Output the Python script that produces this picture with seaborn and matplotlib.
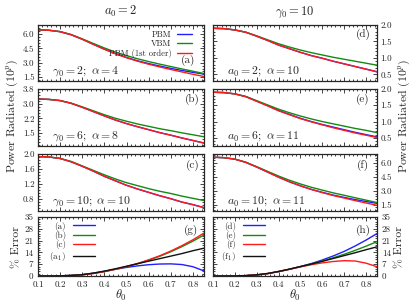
import matplotlib
matplotlib.use("Agg")
import matplotlib.pyplot as plt
import seaborn as sns
from matplotlib.ticker import AutoMinorLocator, FormatStrFormatter, MultipleLocator

# theta_0 grid
theta = [0.10, 0.15, 0.20, 0.25, 0.30, 0.35, 0.40, 0.45,
         0.50, 0.55, 0.60, 0.65, 0.70, 0.75, 0.80, 0.85]

# power radiated, panel (a)  a0=2, gamma0=2, alpha=4
a_pbm = [6.45, 6.40, 6.25, 5.93, 5.46, 4.93, 4.42, 3.96, 3.56, 3.21, 2.92, 2.66, 2.42, 2.20, 2.00, 1.82]
a_vbm = [6.45, 6.40, 6.26, 5.95, 5.50, 5.02, 4.55, 4.12, 3.75, 3.42, 3.13, 2.86, 2.61, 2.36, 2.12, 1.88]
a_first = [6.45, 6.40, 6.25, 5.93, 5.46, 4.93, 4.42, 3.94, 3.53, 3.17, 2.85, 2.57, 2.30, 2.05, 1.80, 1.57]
# panel (b)  gamma0=6, alpha=8
b_pbm = [3.24, 3.22, 3.16, 3.02, 2.82, 2.60, 2.38, 2.17, 1.99, 1.83, 1.68, 1.53, 1.40, 1.26, 1.13, 1.00]
b_vbm = [3.24, 3.22, 3.16, 3.03, 2.84, 2.64, 2.44, 2.26, 2.11, 1.97, 1.85, 1.73, 1.63, 1.52, 1.42, 1.32]
b_first = [3.24, 3.22, 3.16, 3.02, 2.82, 2.60, 2.38, 2.17, 1.99, 1.83, 1.68, 1.53, 1.40, 1.26, 1.13, 1.00]
# panel (c)  gamma0=10, alpha=10
c_pbm = [1.93, 1.92, 1.88, 1.79, 1.67, 1.54, 1.40, 1.28, 1.16, 1.06, 0.97, 0.88, 0.80, 0.71, 0.64, 0.56]
c_vbm = [1.93, 1.92, 1.88, 1.80, 1.68, 1.56, 1.44, 1.33, 1.23, 1.15, 1.07, 1.00, 0.94, 0.87, 0.81, 0.75]
c_first = [1.93, 1.92, 1.88, 1.79, 1.67, 1.54, 1.40, 1.28, 1.16, 1.06, 0.97, 0.88, 0.80, 0.71, 0.64, 0.56]
# panel (d)  a0=2, alpha=10
d_pbm = [1.90, 1.89, 1.85, 1.78, 1.66, 1.53, 1.39, 1.28, 1.17, 1.07, 0.99, 0.90, 0.82, 0.74, 0.66, 0.58]
d_vbm = [1.90, 1.89, 1.85, 1.78, 1.67, 1.55, 1.43, 1.33, 1.24, 1.16, 1.09, 1.02, 0.96, 0.90, 0.84, 0.78]
d_first = [1.90, 1.89, 1.85, 1.78, 1.66, 1.53, 1.39, 1.28, 1.17, 1.07, 0.99, 0.90, 0.82, 0.74, 0.66, 0.58]
# panel (e)  a0=6, alpha=11
e_pbm = [1.90, 1.89, 1.85, 1.77, 1.63, 1.49, 1.34, 1.22, 1.10, 1.00, 0.91, 0.83, 0.75, 0.67, 0.60, 0.53]
e_vbm = [1.90, 1.89, 1.85, 1.77, 1.64, 1.51, 1.38, 1.27, 1.17, 1.08, 1.00, 0.93, 0.86, 0.79, 0.73, 0.66]
e_first = [1.90, 1.89, 1.85, 1.76, 1.62, 1.48, 1.33, 1.21, 1.09, 0.99, 0.90, 0.81, 0.73, 0.65, 0.58, 0.51]
# panel (f)  a0=10, alpha=11
f_pbm = [6.65, 6.60, 6.44, 6.09, 5.58, 5.03, 4.48, 3.97, 3.54, 3.15, 2.83, 2.53, 2.28, 2.04, 1.83, 1.63]
f_vbm = [6.65, 6.60, 6.44, 6.11, 5.62, 5.11, 4.60, 4.14, 3.74, 3.38, 3.07, 2.77, 2.51, 2.24, 1.98, 1.72]
f_first = [6.65, 6.60, 6.44, 6.09, 5.58, 5.03, 4.48, 3.97, 3.53, 3.14, 2.80, 2.48, 2.21, 1.93, 1.67, 1.42]

# % error, panel (g)
err_a = [0, 0, 0.1, 0.35, 0.8, 1.7, 2.8, 4.0, 5.1, 6.0, 6.7, 7.1, 7.2, 6.8, 5.5, 3.0]
err_b = [0, 0, 0.1, 0.3, 0.7, 1.5, 2.6, 4.0, 5.6, 7.3, 9.4, 11.7, 14.4, 17.4, 20.7, 24.3]
err_c = [0, 0, 0.1, 0.3, 0.7, 1.5, 2.6, 4.0, 5.6, 7.4, 9.6, 12.0, 14.8, 18.0, 21.5, 25.5]
err_a1 = [0, 0, 0.1, 0.35, 0.8, 1.7, 2.9, 4.3, 5.8, 7.3, 8.8, 10.3, 11.8, 13.3, 15.0, 16.5]
# % error, panel (h)
err_d = [0, 0, 0.05, 0.2, 0.6, 1.4, 2.6, 4.0, 5.6, 7.4, 9.5, 11.9, 14.6, 17.8, 21.3, 25.2]
err_e = [0, 0, 0.05, 0.2, 0.6, 1.4, 2.6, 4.0, 5.6, 7.2, 8.9, 10.8, 12.9, 15.2, 17.7, 20.4]
err_f = [0, 0, 0.05, 0.25, 0.7, 1.5, 2.7, 4.0, 5.4, 6.7, 7.8, 8.6, 9.1, 8.9, 7.6, 5.5]
err_f1 = [0, 0, 0.05, 0.25, 0.7, 1.5, 2.7, 4.1, 5.6, 7.1, 8.7, 10.4, 12.1, 13.8, 15.6, 17.3]

BLUE, GREEN, RED, BLACK = "#1f1fff", "#138a13", "#ff1a1a", "#111111"

sns.set_style("ticks")
plt.rcParams["font.family"] = "serif"
plt.rcParams["font.serif"] = ["cmr10", "DejaVu Serif"]
plt.rcParams["mathtext.fontset"] = "cm"
plt.rcParams["axes.formatter.use_mathtext"] = True
plt.rcParams["axes.linewidth"] = 0.9

fig = plt.figure(figsize=(4.16, 3.02), dpi=100)
W, H = 416.0, 302.0
cols = [(38, 166), (213, 164)]
rows = [(25, 81), (89, 146), (154, 211), (217, 276)]


def make_ax(c, r):
    x0, w = cols[c]
    t, b = rows[r]
    return fig.add_axes([x0 / W, 1 - b / H, w / W, (b - t) / H])


def style(ax, right, ylim, ystep, fmt, bottom_labels=False):
    ax.set_xlim(0.1, 0.85)
    ax.set_ylim(*ylim)
    ax.xaxis.set_major_locator(MultipleLocator(0.1))
    ax.xaxis.set_minor_locator(AutoMinorLocator(5))
    ax.yaxis.set_major_locator(MultipleLocator(ystep))
    ax.yaxis.set_minor_locator(AutoMinorLocator(5))
    ax.yaxis.set_major_formatter(FormatStrFormatter(fmt))
    ax.xaxis.set_major_formatter(FormatStrFormatter("%.1f"))
    ax.tick_params(which="both", direction="in", top=True, right=True, left=True,
                   labelsize=6.5, pad=2.5, width=0.6)
    ax.tick_params(which="major", length=3)
    ax.tick_params(which="minor", length=1.6)
    ax.tick_params(axis="x", labelbottom=bottom_labels, pad=3)
    if bottom_labels:
        ax.tick_params(axis="y", pad=3.5)
    if right:
        ax.tick_params(axis="y", labelleft=False, labelright=True)
    ax.set_xlabel("")
    ax.set_ylabel("")


def power(ax, pbm, vbm, first, legend=False):
    sns.lineplot(x=theta, y=pbm, ax=ax, color=BLUE, lw=1.0, label="PBM" if legend else None)
    sns.lineplot(x=theta, y=vbm, ax=ax, color=GREEN, lw=1.0, label="VBM" if legend else None)
    sns.lineplot(x=theta, y=first, ax=ax, color=RED, lw=1.0,
                 label="PBM (1st order)" if legend else None)


def note(ax, txt, tag, tx, ty):
    ax.text(0.085, 0.05, txt, transform=ax.transAxes, fontsize=8.5, va="bottom", ha="left")
    ax.text(tx, ty, tag, transform=ax.transAxes, fontsize=8, va="center", ha="center")


def theta_label(ax):
    ax.set_xlabel(r"$\theta_0$", fontsize=9)
    ax.xaxis.set_label_coords(0.5, -0.33)
    ax.xaxis.label.set_va("center")


# left column
ax = make_ax(0, 0)
power(ax, a_pbm, a_vbm, a_first, legend=True)
style(ax, False, (1.1, 6.95), 1.5, "%.1f")
ax.legend(loc="upper right", bbox_to_anchor=(0.96, 1.0), frameon=False, markerfirst=False,
          fontsize=6.2, handlelength=1.8, handletextpad=0.6, labelspacing=0.12, borderaxespad=0.2)
note(ax, r"$\gamma_0 = 2;\ \alpha = 4$", "(a)", 0.905, 0.36)
ax.set_title(r"$a_0 = 2$", fontsize=9, pad=7)

ax = make_ax(0, 1)
power(ax, b_pbm, b_vbm, b_first)
style(ax, False, (0.85, 3.75), 0.75, "%.1f")
note(ax, r"$\gamma_0 = 6;\ \alpha = 8$", "(b)", 0.93, 0.82)

ax = make_ax(0, 2)
power(ax, c_pbm, c_vbm, c_first)
style(ax, False, (0.47, 2.0), 0.4, "%.1f")
note(ax, r"$\gamma_0 = 10;\ \alpha = 10$", "(c)", 0.93, 0.8)

ax = make_ax(0, 3)
sns.lineplot(x=theta, y=err_a, ax=ax, color=BLUE, lw=1.0, label="(a)")
sns.lineplot(x=theta, y=err_b, ax=ax, color=GREEN, lw=1.0, label="(b)")
sns.lineplot(x=theta, y=err_c, ax=ax, color=RED, lw=1.0, label="(c)")
sns.lineplot(x=theta, y=err_a1, ax=ax, color=BLACK, lw=1.0, label=r"(a$_1$)")
style(ax, False, (0, 35), 7, "%d", bottom_labels=True)
ax.legend(loc="upper left", bbox_to_anchor=(0.04, 1.0), frameon=False, markerfirst=False,
          fontsize=6.5, handlelength=2.4, handletextpad=0.8, labelspacing=0.05, borderaxespad=0.1)
ax.text(0.92, 0.78, "(g)", transform=ax.transAxes, fontsize=8, va="center", ha="center")
theta_label(ax)
ax.set_ylabel(r"% Error", fontsize=8.5, labelpad=2)

# right column
ax = make_ax(1, 0)
power(ax, d_pbm, d_vbm, d_first)
style(ax, True, (0.3, 2.0), 0.5, "%.1f")
note(ax, r"$a_0 = 2;\ \alpha = 10$", "(d)", 0.915, 0.84)
ax.set_title(r"$\gamma_0 = 10$", fontsize=9, pad=7)

ax = make_ax(1, 1)
power(ax, e_pbm, e_vbm, e_first)
style(ax, True, (0.25, 2.0), 0.5, "%.1f")
note(ax, r"$a_0 = 6;\ \alpha = 11$", "(e)", 0.915, 0.82)

ax = make_ax(1, 2)
power(ax, f_pbm, f_vbm, f_first)
style(ax, True, (0.8, 7.0), 1.5, "%.1f")
note(ax, r"$a_0 = 10;\ \alpha = 11$", "(f)", 0.915, 0.8)

ax = make_ax(1, 3)
sns.lineplot(x=theta, y=err_d, ax=ax, color=BLUE, lw=1.0, label="(d)")
sns.lineplot(x=theta, y=err_e, ax=ax, color=GREEN, lw=1.0, label="(e)")
sns.lineplot(x=theta, y=err_f, ax=ax, color=RED, lw=1.0, label="(f)")
sns.lineplot(x=theta, y=err_f1, ax=ax, color=BLACK, lw=1.0, label=r"(f$_1$)")
style(ax, True, (0, 35), 7, "%d", bottom_labels=True)
ax.legend(loc="upper left", bbox_to_anchor=(0.02, 1.0), frameon=False, markerfirst=False,
          fontsize=6.5, handlelength=2.4, handletextpad=0.8, labelspacing=0.05, borderaxespad=0.1)
ax.text(0.915, 0.78, "(h)", transform=ax.transAxes, fontsize=8, va="center", ha="center")
theta_label(ax)
ax.yaxis.set_label_position("right")
ax.set_ylabel(r"% Error", fontsize=8.5, labelpad=3, rotation=90)

# shared y labels for the power panels
fig.text(12 / W, 1 - 116 / H, r"Power Radiated $(10^{p})$", rotation=90, fontsize=8.5,
         ha="center", va="center")
fig.text(404 / W, 1 - 116 / H, r"Power Radiated $(10^{p})$", rotation=90, fontsize=8.5,
         ha="center", va="center")

fig.savefig("out.png", dpi=100)
